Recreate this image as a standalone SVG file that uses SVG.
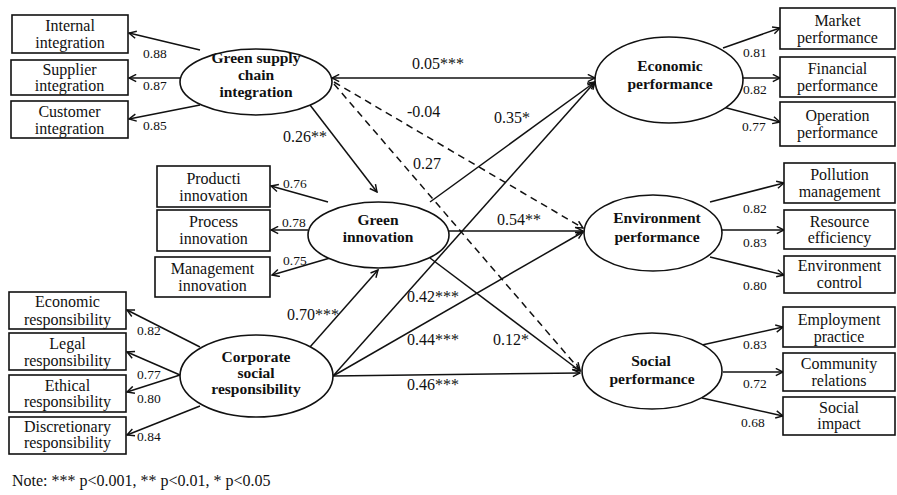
<svg xmlns="http://www.w3.org/2000/svg" width="897" height="495" viewBox="0 0 897 495" font-family="'Liberation Serif', 'Times New Roman', serif">
<style>
text{font-family:'Liberation Serif','Times New Roman',serif}
.box{fill:#fff;stroke:#111;stroke-width:1.6}
.ell{fill:#fff;stroke:#111;stroke-width:1.6}
.bt{font-size:16px;fill:#111;text-anchor:middle}
.et{font-size:15.5px;font-weight:bold;fill:#111;text-anchor:middle}
.ld{font-size:13.5px;fill:#111}
.co{font-size:16px;fill:#111}
.ln{stroke:#111;stroke-width:1.5;fill:none;marker-end:url(#arr)}
.ds{stroke-dasharray:7 5}
</style>
<defs>
<marker id="arr" viewBox="0 0 10 10" refX="9" refY="5" markerWidth="9" markerHeight="9" markerUnits="userSpaceOnUse" orient="auto-start-reverse">
<path d="M1,1 L9,5 L1,9" fill="none" stroke="#111" stroke-width="1.6"/>
</marker>
</defs>
<rect width="897" height="495" fill="#fff"/>

<g id="connectors">
<line class="ln" x1="200" y1="50" x2="129" y2="33"/>
<line class="ln" x1="180" y1="78" x2="129" y2="78"/>
<line class="ln" x1="200" y1="105" x2="129" y2="119"/>
<line class="ln" x1="332" y1="78" x2="595" y2="78" style="marker-start:url(#arr)"/>
<line class="ln ds" x1="334" y1="82" x2="583" y2="228"/>
<line class="ln ds" x1="334" y1="84" x2="580" y2="370"/>
<line class="ln" x1="310" y1="105" x2="377" y2="192"/>
<line class="ln" x1="328" y1="202" x2="271" y2="186"/>
<line class="ln" x1="308" y1="230" x2="271" y2="230"/>
<line class="ln" x1="330" y1="258" x2="272" y2="275"/>
<line class="ln" x1="310" y1="347" x2="378" y2="270"/>
<line class="ln" x1="200" y1="347" x2="127" y2="310"/>
<line class="ln" x1="180" y1="375" x2="127" y2="352"/>
<line class="ln" x1="180" y1="375" x2="127" y2="392"/>
<line class="ln" x1="200" y1="406" x2="127" y2="435"/>
<line class="ln" x1="333" y1="376" x2="595" y2="82"/>
<line class="ln" x1="333" y1="376" x2="583" y2="232"/>
<line class="ln" x1="333" y1="376" x2="580" y2="373"/>
<line class="ln" x1="430" y1="202" x2="595" y2="82"/>
<line class="ln" x1="449" y1="231" x2="583" y2="231"/>
<line class="ln" x1="430" y1="258" x2="580" y2="371"/>
<line class="ln" x1="723" y1="48" x2="780" y2="28"/>
<line class="ln" x1="743" y1="78" x2="780" y2="78"/>
<line class="ln" x1="723" y1="107" x2="780" y2="122"/>
<line class="ln" x1="710" y1="202" x2="784" y2="183"/>
<line class="ln" x1="722" y1="230" x2="784" y2="230"/>
<line class="ln" x1="710" y1="257" x2="784" y2="275"/>
<line class="ln" x1="702" y1="345" x2="783" y2="327"/>
<line class="ln" x1="723" y1="372" x2="783" y2="372"/>
<line class="ln" x1="702" y1="398" x2="783" y2="416"/>
</g>

<g id="labels">
<text class="ld" x="143" y="58">0.88</text>
<text class="ld" x="143" y="90">0.87</text>
<text class="ld" x="143" y="130">0.85</text>
<text class="co" x="412" y="69">0.05***</text>
<text class="co" x="407" y="117">-0.04</text>
<text class="co" x="413" y="169">0.27</text>
<text class="co" x="283" y="142">0.26**</text>
<text class="co" x="494" y="123">0.35*</text>
<text class="co" x="497" y="225">0.54**</text>
<text class="ld" x="283" y="188">0.76</text>
<text class="ld" x="282" y="227">0.78</text>
<text class="ld" x="283" y="265">0.75</text>
<text class="co" x="287" y="320">0.70***</text>
<text class="co" x="407" y="302">0.42***</text>
<text class="co" x="407" y="345">0.44***</text>
<text class="co" x="493" y="345">0.12*</text>
<text class="co" x="407" y="390">0.46***</text>
<text class="ld" x="137" y="335">0.82</text>
<text class="ld" x="137" y="379">0.77</text>
<text class="ld" x="137" y="403">0.80</text>
<text class="ld" x="137" y="441">0.84</text>
<text class="ld" x="743" y="57">0.81</text>
<text class="ld" x="743" y="94">0.82</text>
<text class="ld" x="742" y="131">0.77</text>
<text class="ld" x="743" y="213">0.82</text>
<text class="ld" x="743" y="247">0.83</text>
<text class="ld" x="743" y="290">0.80</text>
<text class="ld" x="743" y="349">0.83</text>
<text class="ld" x="743" y="388">0.72</text>
<text class="ld" x="741" y="427">0.68</text>
</g>

<g id="gsci"><ellipse class="ell" cx="256" cy="82" rx="76" ry="33"/>
<text class="et" x="256" y="63">Green supply</text><text class="et" x="256" y="80">chain</text><text class="et" x="256" y="97">integration</text></g>
<g id="gi"><ellipse class="ell" cx="378.5" cy="235" rx="70.5" ry="33"/>
<text class="et" x="378" y="225">Green</text><text class="et" x="378" y="242">innovation</text></g>
<g id="csr"><ellipse class="ell" cx="256.5" cy="376" rx="76.5" ry="41"/>
<text class="et" x="256" y="362">Corporate</text><text class="et" x="256" y="378">social</text><text class="et" x="256" y="394">responsibility</text></g>
<g id="econ"><ellipse class="ell" cx="669" cy="80" rx="74" ry="43"/>
<text class="et" x="670" y="71">Economic</text><text class="et" x="670" y="89">performance</text></g>
<g id="env"><ellipse class="ell" cx="653" cy="233" rx="69" ry="38"/>
<text class="et" x="657" y="223">Environment</text><text class="et" x="657" y="242">performance</text></g>
<g id="soc"><ellipse class="ell" cx="652" cy="371" rx="70" ry="38"/>
<text class="et" x="651" y="366">Social</text><text class="et" x="652" y="384">performance</text></g>

<g id="b-internal"><rect class="box" x="12" y="15" width="116" height="38"/><text class="bt" x="70" y="31">Internal</text><text class="bt" x="70" y="48">integration</text></g>
<g id="b-supplier"><rect class="box" x="11" y="60" width="117" height="35"/><text class="bt" x="69.5" y="75">Supplier</text><text class="bt" x="69.5" y="91">integration</text></g>
<g id="b-customer"><rect class="box" x="11" y="101" width="117" height="37"/><text class="bt" x="69.5" y="116.5">Customer</text><text class="bt" x="69.5" y="133.5">integration</text></g>
<g id="b-market"><rect class="box" x="780" y="8" width="115" height="41"/><text class="bt" x="837.5" y="25.5">Market</text><text class="bt" x="837.5" y="42.5">performance</text></g>
<g id="b-financial"><rect class="box" x="780" y="57" width="115" height="40"/><text class="bt" x="837.5" y="73.5">Financial</text><text class="bt" x="837.5" y="90.5">performance</text></g>
<g id="b-operation"><rect class="box" x="780" y="102" width="115" height="44"/><text class="bt" x="837.5" y="120.5">Operation</text><text class="bt" x="837.5" y="137.5">performance</text></g>
<g id="b-product"><rect class="box" x="157" y="166" width="113" height="41"/><text class="bt" x="213.5" y="183.5">Producti</text><text class="bt" x="213.5" y="200.5">innovation</text></g>
<g id="b-process"><rect class="box" x="157" y="210" width="113" height="41"/><text class="bt" x="213.5" y="227">Process</text><text class="bt" x="213.5" y="244">innovation</text></g>
<g id="b-management"><rect class="box" x="155" y="257" width="115" height="40"/><text class="bt" x="212.5" y="273.5">Management</text><text class="bt" x="212.5" y="290.5">innovation</text></g>
<g id="b-econresp"><rect class="box" x="9" y="292" width="117" height="37"/><text class="bt" x="67.5" y="307">Economic</text><text class="bt" x="67.5" y="324.5">responsibility</text></g>
<g id="b-legal"><rect class="box" x="9" y="333" width="117" height="37"/><text class="bt" x="67.5" y="348.5">Legal</text><text class="bt" x="67.5" y="365.5">responsibility</text></g>
<g id="b-ethical"><rect class="box" x="9" y="375" width="117" height="37"/><text class="bt" x="67.5" y="390.5">Ethical</text><text class="bt" x="67.5" y="407">responsibility</text></g>
<g id="b-discretionary"><rect class="box" x="9" y="417" width="117" height="37"/><text class="bt" x="67.5" y="432">Discretionary</text><text class="bt" x="67.5" y="448">responsibility</text></g>
<g id="b-pollution"><rect class="box" x="784" y="163" width="111" height="40"/><text class="bt" x="839.5" y="180">Pollution</text><text class="bt" x="839.5" y="197">management</text></g>
<g id="b-resource"><rect class="box" x="784" y="210" width="111" height="39"/><text class="bt" x="839.5" y="226.5">Resource</text><text class="bt" x="839.5" y="243">efficiency</text></g>
<g id="b-envcontrol"><rect class="box" x="784" y="256" width="111" height="37"/><text class="bt" x="839.5" y="271">Environment</text><text class="bt" x="839.5" y="288">control</text></g>
<g id="b-employment"><rect class="box" x="783" y="307" width="112" height="40"/><text class="bt" x="839" y="324.5">Employment</text><text class="bt" x="839" y="341.5">practice</text></g>
<g id="b-community"><rect class="box" x="783" y="353" width="112" height="38"/><text class="bt" x="839" y="368.5">Community</text><text class="bt" x="839" y="385.5">relations</text></g>
<g id="b-socialimpact"><rect class="box" x="783" y="397" width="112" height="38"/><text class="bt" x="839" y="412.5">Social</text><text class="bt" x="839" y="429">impact</text></g>

<text x="12" y="486" font-size="16" fill="#111">Note: *** p&lt;0.001, ** p&lt;0.01, * p&lt;0.05</text>
</svg>
